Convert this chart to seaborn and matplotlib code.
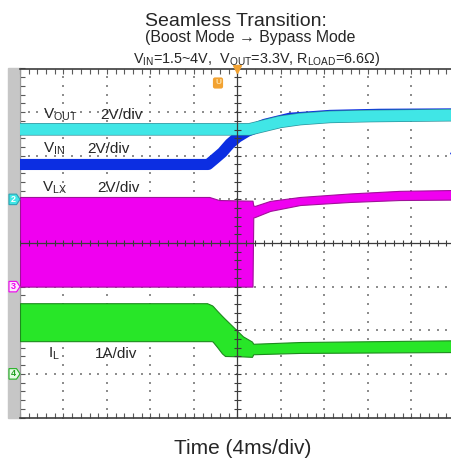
import numpy as np
import matplotlib
matplotlib.use("Agg")
import matplotlib.pyplot as plt
import matplotlib.transforms as mtransforms
from matplotlib.patches import Polygon, Rectangle
import seaborn as sns

# ---------------------------------------------------------------
# Scope capture data (time in ms, 4 ms/div, trigger at t = 0)
# ---------------------------------------------------------------
# CH1: input voltage V_IN (V)
t_vin = [-20.0, -2.7, -2.1, -1.4, -0.7, 0.0, 0.9, 2.5, 4.8, 8.5, 13.0, 20.0]
v_in = [1.60, 1.60, 1.85, 2.15, 2.55, 2.85, 3.12, 3.44, 3.72, 3.85, 3.90, 3.92]

# CH2: output voltage V_OUT (V)
t_vout = [-20.0, 1.1, 2.5, 3.9, 5.75, 8.5, 12.2, 20.0]
v_out = [3.21, 3.21, 3.38, 3.55, 3.68, 3.78, 3.82, 3.86]

# CH3: switch node V_LX envelope (V) - switching in boost mode, then tied to V_IN
t_vlx = [-20.0, -2.6, -1.7, 1.38, 1.45, 1.6, 3.0, 5.75, 10.3, 14.9, 20.0]
vlx_hi = [4.11, 4.11, 3.97, 3.94, 3.72, 3.70, 3.93, 4.11, 4.27, 4.39, 4.43]
vlx_lo = [0.0, 0.0, 0.0, 0.0, 3.17, 3.19, 3.47, 3.74, 3.88, 3.97, 3.99]

# CH4: inductor current I_L envelope (A)
t_il = [-20.0, -2.8, -2.34, -2.25, -1.89, -1.43, -1.15, 0.5, 1.33, 1.45, 5.75, 20.0]
il_hi = [1.62, 1.62, 1.57, 1.55, 1.45, 1.33, 1.26, 0.86, 0.74, 0.69, 0.73, 0.77]
il_lo = [0.75, 0.75, 0.75, 0.73, 0.62, 0.47, 0.41, 0.40, 0.39, 0.45, 0.48, 0.50]

# Vertical settings per channel: (units per division, ground offset in divisions)
ch_vin = (2.0, 1.0)
ch_vout = (2.0, 1.0)
ch_vlx = (2.0, -1.0)
ch_il = (1.0, -3.0)
vin_trigger_level = 2.12  # V

ms_per_div = 4.0


def to_screen(values, channel):
    scale, offset = channel
    return offset + np.asarray(values, dtype=float) / scale


# ---------------------------------------------------------------
# Style
# ---------------------------------------------------------------
sns.set_style("white")
plt.rcParams["font.family"] = ["Liberation Sans", "DejaVu Sans"]
plt.rcParams["mathtext.fontset"] = "custom"
plt.rcParams["mathtext.rm"] = "Liberation Sans"
plt.rcParams["mathtext.it"] = "Liberation Sans:italic"
plt.rcParams["mathtext.bf"] = "Liberation Sans:bold"

C_VIN = "#0c2ee2"
C_VOUT = "#40e6e6"
C_VOUT_EDGE = "#2c8f9a"
C_VLX = "#f000f0"
C_VLX_EDGE = "#a0109a"
C_IL = "#28e628"
C_IL_EDGE = "#1d8a1d"
C_GRID = "#8e8e8e"
C_AXIS = "#3c3c3c"
C_ORANGE = "#f2a232"

W, H = 451, 467
fig = plt.figure(figsize=(W / 100, H / 100), dpi=100, facecolor="white")

# graticule: 10 x 8 divisions of ~43.5 px, left edge at x=20 px
L, R, T, B = 20.0, 455.0, 68.5, 417.5
ax = fig.add_axes([L / W, 1 - B / H, (R - L) / W, (B - T) / H])
ax.set_facecolor("white")
ax.set_xlim(-5 * ms_per_div, 5 * ms_per_div)
ax.set_ylim(-4, 4)


def fpx(x, y):
    return x / W, 1 - y / H


# side bar holding the channel markers
left_bar = mtransforms.blended_transform_factory(ax.transAxes, ax.transAxes)
ax.add_patch(Rectangle((-12 / (R - L), -0.002), 12 / (R - L), 1.004,
                       transform=left_bar, color="#c6c6c6", clip_on=False, zorder=0.5))

# dotted graticule
sub_x = np.arange(-20, 20.001, ms_per_div / 5)
sub_y = np.arange(-4, 4.001, 0.2)
maj_x = [-16, -12, -8, -4, 4, 8, 12, 16]
maj_y = [-3, -2, -1, 1, 2, 3]
gx = np.concatenate([np.full(sub_y.size, x) for x in maj_x] + [sub_x for _ in maj_y])
gy = np.concatenate([sub_y for _ in maj_x] + [np.full(sub_x.size, y) for y in maj_y])
ax.scatter(gx, gy, s=1.6, marker="s", color=C_GRID, linewidths=0, zorder=1)

# ---------------------------------------------------------------
# Traces
# ---------------------------------------------------------------
ax.fill_between(t_vlx, to_screen(vlx_lo, ch_vlx), to_screen(vlx_hi, ch_vlx),
                facecolor=C_VLX, edgecolor=C_VLX_EDGE, linewidth=0.8, zorder=3)
ax.fill_between(t_il, to_screen(il_lo, ch_il), to_screen(il_hi, ch_il),
                facecolor=C_IL, edgecolor=C_IL_EDGE, linewidth=0.8, zorder=3)
sns.lineplot(x=t_vin, y=to_screen(v_in, ch_vin), ax=ax, color=C_VIN, linewidth=8.0,
             sort=False, estimator=None, solid_capstyle="butt",
             solid_joinstyle="round", zorder=4)
# V_OUT: darker outline underneath, bright trace on top
sns.lineplot(x=t_vout, y=to_screen(v_out, ch_vout), ax=ax, color=C_VOUT_EDGE,
             linewidth=9.0, sort=False, estimator=None, solid_capstyle="butt",
             solid_joinstyle="round", zorder=4.5)
sns.lineplot(x=t_vout, y=to_screen(v_out, ch_vout), ax=ax, color=C_VOUT, linewidth=8.0,
             sort=False, estimator=None, solid_capstyle="butt",
             solid_joinstyle="round", zorder=5)

# centre cross-hair with sub-division ticks
ax.axhline(0, color=C_AXIS, lw=0.9, zorder=6)
ax.axvline(0, color=C_AXIS, lw=0.9, zorder=6)
ax.vlines(sub_x, -0.07, 0.07, color=C_AXIS, lw=0.8, zorder=6)
ax.hlines(sub_y, -0.28, 0.28, color=C_AXIS, lw=0.8, zorder=6)

# frame
ax.set_xticks(sub_x)
ax.set_yticks(sub_y)
ax.tick_params(axis="both", direction="in", length=3.5, width=0.8, color="#5a5a5a",
               labelbottom=False, labelleft=False, bottom=True, top=True,
               left=True, right=False)
for side in ("top", "bottom"):
    ax.spines[side].set_color(C_AXIS)
    ax.spines[side].set_linewidth(1.2)
ax.spines["left"].set_color("#9a9a9a")
ax.spines["left"].set_linewidth(0.8)
ax.spines["right"].set_visible(False)

# channel ground markers on the side bar
marker_tf = mtransforms.blended_transform_factory(ax.transAxes, ax.transData)
xa0, xa1, xa2 = -11 / (R - L), -3.5 / (R - L), 0.0
for label, ch, face, edge, txt in [("2", ch_vout, C_VOUT, "#2aa6b4", "white"),
                                    ("3", ch_vlx, "#fbe6fb", C_VLX, C_VLX),
                                    ("4", ch_il, "#e6fbe6", "#22b022", "#22a022")]:
    y0 = ch[1]
    hh = 0.12
    ax.add_patch(Polygon([(xa0, y0 - hh), (xa1, y0 - hh), (xa2, y0), (xa1, y0 + hh),
                          (xa0, y0 + hh)], closed=True, transform=marker_tf,
                         facecolor=face, edgecolor=edge, lw=0.8, clip_on=False, zorder=7))
    ax.text((xa0 + xa1) / 2 + 0.002, y0, label, transform=marker_tf, ha="center",
            va="center", fontsize=6.5, color=txt, fontweight="bold", zorder=8,
            clip_on=False)

# trigger level marker for CH1 (right edge) and trigger position marker (top)
ax.plot([0.996], [to_screen(vin_trigger_level, ch_vin)], marker="<", ms=5,
        color=C_VIN, transform=marker_tf, clip_on=False, zorder=7)
ax.plot([0], [4], marker="v", ms=6, color=C_ORANGE, clip_on=False, zorder=7)
fig.text(*fpx(218, 83), "U", ha="center", va="center", fontsize=6, color="#ffe3a8",
         fontweight="bold",
         bbox=dict(boxstyle="round,pad=0.25", fc=C_ORANGE, ec="none"))

# ---------------------------------------------------------------
# Text
# ---------------------------------------------------------------
fig.text(*fpx(235.5, 26), "Seamless Transition:", ha="center", va="baseline",
         fontsize=14)
fig.text(*fpx(250, 42), "(Boost Mode \u2192 Bypass Mode", ha="center", va="baseline",
         fontsize=11.4)
fig.text(*fpx(257, 63),
         "V$_{\\mathrm{IN}}$=1.5~4V,  V$_{\\mathrm{OUT}}$=3.3V, R$_{\\mathrm{LOAD}}$=6.6\u03a9)",
         ha="center", va="baseline", fontsize=10.4)
fig.text(*fpx(243, 454), "Time (4ms/div)", ha="center", va="baseline", fontsize=15)

for name, scale_txt, xn, xs, yb in [("V$_{\\mathrm{OUT}}$", "2V/div", 43, 100, 119),
                                    ("V$_{\\mathrm{IN}}$", "2V/div", 43, 87, 153),
                                    ("V$_{\\mathrm{LX}}$", "2V/div", 42, 97, 191.5),
                                    ("I$_{\\mathrm{L}}$", "1A/div", 48, 95, 358)]:
    fig.text(*fpx(xn, yb), name, ha="left", va="baseline", fontsize=11, zorder=10)
    fig.text(*fpx(xs, yb), scale_txt, ha="left", va="baseline", fontsize=11, zorder=10)

fig.savefig("out.png", dpi=100, facecolor="white")
